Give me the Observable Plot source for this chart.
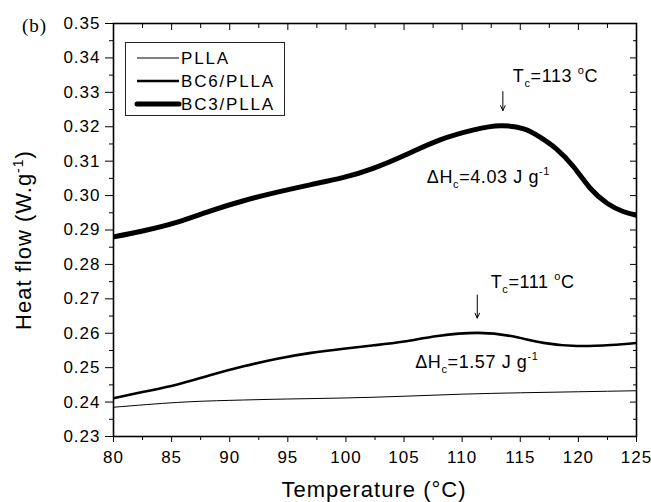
<!DOCTYPE html>
<html>
<head>
<meta charset="utf-8">
<script src="https://cdn.jsdelivr.net/npm/d3@7"></script>
<script src="https://cdn.jsdelivr.net/npm/@observablehq/plot@0.6"></script>
<style>
  html, body { margin: 0; padding: 0; background: #fff; }
  #chart svg { display: block; }
  #chart svg text { letter-spacing: 1px; }
</style>
</head>
<body>
<div id="chart"></div>
<script>
// ---- data ----
const seriesNames = ["PLLA", "BC6/PLLA", "BC3/PLLA"];
const seriesWidths = [1, 2.6, 5];

const pllaT = [80, 85.5, 90, 95, 100, 105, 110, 115, 120, 125];
const pllaV = [0.2385, 0.2399, 0.2405, 0.2409, 0.2412, 0.2417, 0.2423, 0.2427, 0.2430, 0.2433];

const bc6T = [80, 82.6, 85.5, 88.3, 91.2, 94.1, 97.0, 99.8, 102.4, 105.0, 107.9, 111.3, 114.2, 117.0, 119.9, 122.8, 125];
const bc6V = [0.2411, 0.2430, 0.2451, 0.2478, 0.2504, 0.2526, 0.2543, 0.2555, 0.2565, 0.2576, 0.2592, 0.2601, 0.2592, 0.2572, 0.2563, 0.2566, 0.2572];

const bc3T = [80, 82.6, 85.5, 88.3, 91.2, 94.1, 97.0, 99.8, 102.4, 105.3, 108.1, 111.0, 113.3, 115.3, 116.7, 118.1, 119.6, 121.0, 122.5, 123.9, 125];
const bc3V = [0.2880, 0.2898, 0.2923, 0.2955, 0.2985, 0.3010, 0.3032, 0.3053, 0.3080, 0.3121, 0.3162, 0.3191, 0.3203, 0.3194, 0.3170, 0.3136, 0.3083, 0.3022, 0.2977, 0.2953, 0.2943];

const xMajor = [80, 85, 90, 95, 100, 105, 110, 115, 120, 125];
const xMinor = [82.5, 87.5, 92.5, 97.5, 102.5, 107.5, 112.5, 117.5, 122.5];
const yMajor = [0.23, 0.24, 0.25, 0.26, 0.27, 0.28, 0.29, 0.30, 0.31, 0.32, 0.33, 0.34, 0.35];
const yMinor = [0.235, 0.245, 0.255, 0.265, 0.275, 0.285, 0.295, 0.305, 0.315, 0.325, 0.335, 0.345];

// annotations: [temperature, value]
const arrowX = [113.5, 111.3];
const arrowY1 = [0.3302, 0.2711];
const arrowY2 = [0.3247, 0.2644];
const annTextX = [114.4, 107.0, 112.5, 106.0];
const annTextY = [0.3329, 0.3035, 0.2730, 0.2498];
const annParts = [
  [["T", 0], ["c", -1], ["=113 ", 0], ["o", 1], ["C", 0]],
  [["\u0394H", 0], ["c", -1], ["=4.03 J g", 0], ["-1", 1]],
  [["T", 0], ["c", -1], ["=111 ", 0], ["o", 1], ["C", 0]],
  [["\u0394H", 0], ["c", -1], ["=1.57 J g", 0], ["-1", 1]]
];

// ---- build tables ----
const seriesData = [
  pllaT.map((t, i) => ({t, v: pllaV[i], s: 0})),
  bc6T.map((t, i) => ({t, v: bc6V[i], s: 1})),
  bc3T.map((t, i) => ({t, v: bc3V[i], s: 2}))
];
const arrows = arrowX.map((x, i) => ({x, y1: arrowY1[i], y2: arrowY2[i]}));

const font = "'Liberation Sans', Arial, sans-serif";
const blank = () => "";

const chart = Plot.plot({
  width: 651,
  height: 502,
  marginLeft: 113,
  marginRight: 15,
  marginTop: 23,
  marginBottom: 66,
  style: {fontFamily: font, fontSize: "17px", color: "#000", background: "#fff"},
  x: {domain: [80, 125]},
  y: {domain: [0.23, 0.35]},
  marks: [
    // bottom axis (outward)
    Plot.axisX(xMajor, {anchor: "bottom", tickSize: 6, tickPadding: 8, fontSize: 17, label: null, tickFormat: d => d}),
    Plot.axisX(xMinor, {anchor: "bottom", tickSize: 4, label: null, tickFormat: blank}),
    // top axis (inward)
    Plot.axisX(xMajor, {anchor: "top", tickSize: 6, dy: 6, label: null, tickFormat: blank}),
    Plot.axisX(xMinor, {anchor: "top", tickSize: 4, dy: 4, label: null, tickFormat: blank}),
    // left axis (outward)
    Plot.axisY(yMajor, {anchor: "left", tickSize: 8, tickPadding: 5, fontSize: 17, label: null, tickFormat: d3.format(".2f")}),
    Plot.axisY(yMinor, {anchor: "left", tickSize: 4, label: null, tickFormat: blank}),
    // right axis (inward)
    Plot.axisY(yMajor, {anchor: "right", tickSize: 7, dx: -7, label: null, tickFormat: blank}),
    Plot.axisY(yMinor, {anchor: "right", tickSize: 4, dx: -4, label: null, tickFormat: blank}),
    ...seriesData.map((d, i) =>
      Plot.line(d, {x: "t", y: "v", stroke: "#000", strokeWidth: seriesWidths[i], curve: "natural", clip: true})
    ),
    Plot.arrow(arrows, {x1: "x", x2: "x", y1: "y1", y2: "y2", stroke: "#000", strokeWidth: 1, headLength: 8, headAngle: 50}),
    Plot.frame({stroke: "#000", strokeWidth: 1.6})
  ]
});

document.getElementById("chart").appendChild(chart);

// ---- extra text: axis titles, panel label, annotations, legend ----
const svg = d3.select(chart);
const sx = chart.scale("x"), sy = chart.scale("y");

function richText(g, parts, size) {
  let shift = 0;
  parts.forEach(([str, k]) => {
    const target = k === -1 ? 5 : k === 1 ? -8 : 0;
    g.append("tspan").text(str)
      .attr("dy", target - shift)
      .attr("font-size", k === 0 ? size : Math.round(size * 0.62));
    shift = target;
  });
}

// annotations
annParts.forEach((parts, i) => {
  const t = svg.append("text")
    .attr("x", sx.apply(annTextX[i]))
    .attr("y", sy.apply(annTextY[i]))
    .attr("text-anchor", "start")
    .attr("font-family", font)
    .attr("font-size", 18)
    .style("letter-spacing", "0.6px")
    .attr("fill", "#000");
  richText(t, parts, 18);
});

// x title
svg.append("text")
  .attr("x", 374).attr("y", 497)
  .attr("text-anchor", "middle")
  .attr("font-family", font).attr("font-size", 22)
  .style("letter-spacing", "1px")
  .text("Temperature (\u00B0C)");

// y title
const yt = svg.append("text")
  .attr("transform", "translate(31,240) rotate(-90)")
  .attr("text-anchor", "middle")
  .attr("font-family", font).attr("font-size", 22)
  .style("letter-spacing", "1px");
richText(yt, [["Heat flow (W.g", 0], ["-1", 1], [")", 0]], 22);

// panel label
svg.append("text")
  .attr("x", 22).attr("y", 32)
  .attr("text-anchor", "start")
  .attr("font-family", "'Liberation Serif', 'Times New Roman', serif")
  .attr("font-size", 19)
  .style("letter-spacing", "1px")
  .text("(b)");

// legend
const lg = svg.append("g");
lg.append("rect").attr("x", 125.5).attr("y", 42.5).attr("width", 159).attr("height", 73)
  .attr("fill", "#fff").attr("stroke", "#222").attr("stroke-width", 1);
const legY = [58, 81, 104];
seriesNames.forEach((name, i) => {
  lg.append("line").attr("x1", 137).attr("x2", 179).attr("y1", legY[i]).attr("y2", legY[i])
    .attr("stroke", "#000").attr("stroke-width", seriesWidths[i]).attr("stroke-linecap", i === 2 ? "round" : "butt");
  lg.append("text").attr("x", 181).attr("y", legY[i] + 6)
    .attr("text-anchor", "start")
    .attr("font-family", font).attr("font-size", 17)
    .style("letter-spacing", "1.8px")
    .text(name);
});
</script>
</body>
</html>
